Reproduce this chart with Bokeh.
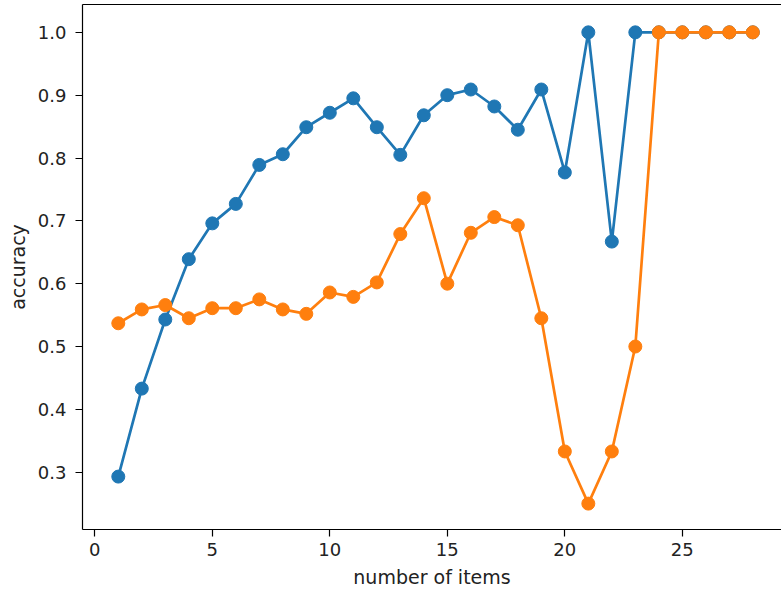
from bokeh.plotting import figure
from bokeh.models import Range1d, LinearAxis, FixedTicker
from bokeh.embed import file_html
from bokeh.resources import INLINE

items = list(range(1, 29))
acc_blue = [0.293, 0.433, 0.543, 0.639, 0.696, 0.727, 0.789, 0.806, 0.849, 0.872,
            0.895, 0.849, 0.805, 0.868, 0.900, 0.909, 0.882, 0.845, 0.909, 0.777,
            1.000, 0.667, 1.000, 1.000, 1.000, 1.000, 1.000, 1.000]
acc_orange = [0.537, 0.559, 0.566, 0.545, 0.561, 0.561, 0.575, 0.559, 0.552, 0.586,
              0.579, 0.602, 0.679, 0.736, 0.600, 0.681, 0.706, 0.693, 0.545, 0.333,
              0.250, 0.333, 0.500, 1.000, 1.000, 1.000, 1.000, 1.000]
x_ticks = [0, 5, 10, 15, 20, 25]
y_ticks = [0.3, 0.4, 0.5, 0.6, 0.7, 0.8, 0.9, 1.0]

BLUE = "#1f77b4"
ORANGE = "#ff7f0e"
FONT = "DejaVu Sans"

p = figure(width=781, height=594, output_backend="svg", toolbar_location=None,
           x_range=Range1d(-0.523, 29.22), y_range=Range1d(0.2088, 1.0443),
           min_border_left=82, min_border_right=0, min_border_top=4, min_border_bottom=65,
           x_axis_label="number of items", y_axis_label="accuracy")
p.outline_line_color = None
p.xgrid.visible = False
p.ygrid.visible = False
p.background_fill_color = "white"
p.border_fill_color = "white"

for ax in (p.xaxis[0], p.yaxis[0]):
    ax.axis_line_color = "black"
    ax.axis_line_width = 1.2
    ax.major_tick_line_color = "black"
    ax.major_tick_line_width = 1.2
    ax.major_tick_in = 0
    ax.major_tick_out = 7
    ax.minor_tick_line_color = None
    ax.major_label_text_font = FONT
    ax.major_label_text_font_size = "18px"
    ax.major_label_text_color = "#222222"
    ax.axis_label_text_font = FONT
    ax.axis_label_text_font_size = "19px"
    ax.axis_label_text_font_style = "normal"
    ax.axis_label_text_color = "#222222"

p.xaxis[0].ticker = FixedTicker(ticks=x_ticks)
p.yaxis[0].ticker = FixedTicker(ticks=y_ticks)
p.yaxis[0].major_label_overrides = {t: f"{t:.1f}" for t in y_ticks}
p.xaxis[0].major_label_standoff = 6
p.yaxis[0].major_label_standoff = 9
p.xaxis[0].axis_label_standoff = 7
p.yaxis[0].axis_label_standoff = 6

top = LinearAxis(ticker=FixedTicker(ticks=[]), axis_line_color="black", axis_line_width=1.2,
                 major_tick_line_color=None, minor_tick_line_color=None,
                 major_label_text_font_size="0px")
p.add_layout(top, "above")

p.line(items, acc_blue, line_color=BLUE, line_width=2.7)
p.scatter(items, acc_blue, size=13, fill_color=BLUE, line_color=BLUE)
p.line(items, acc_orange, line_color=ORANGE, line_width=2.7)
p.scatter(items, acc_orange, size=13, fill_color=ORANGE, line_color=ORANGE)

open("out.html", "w").write(file_html(p, INLINE))
